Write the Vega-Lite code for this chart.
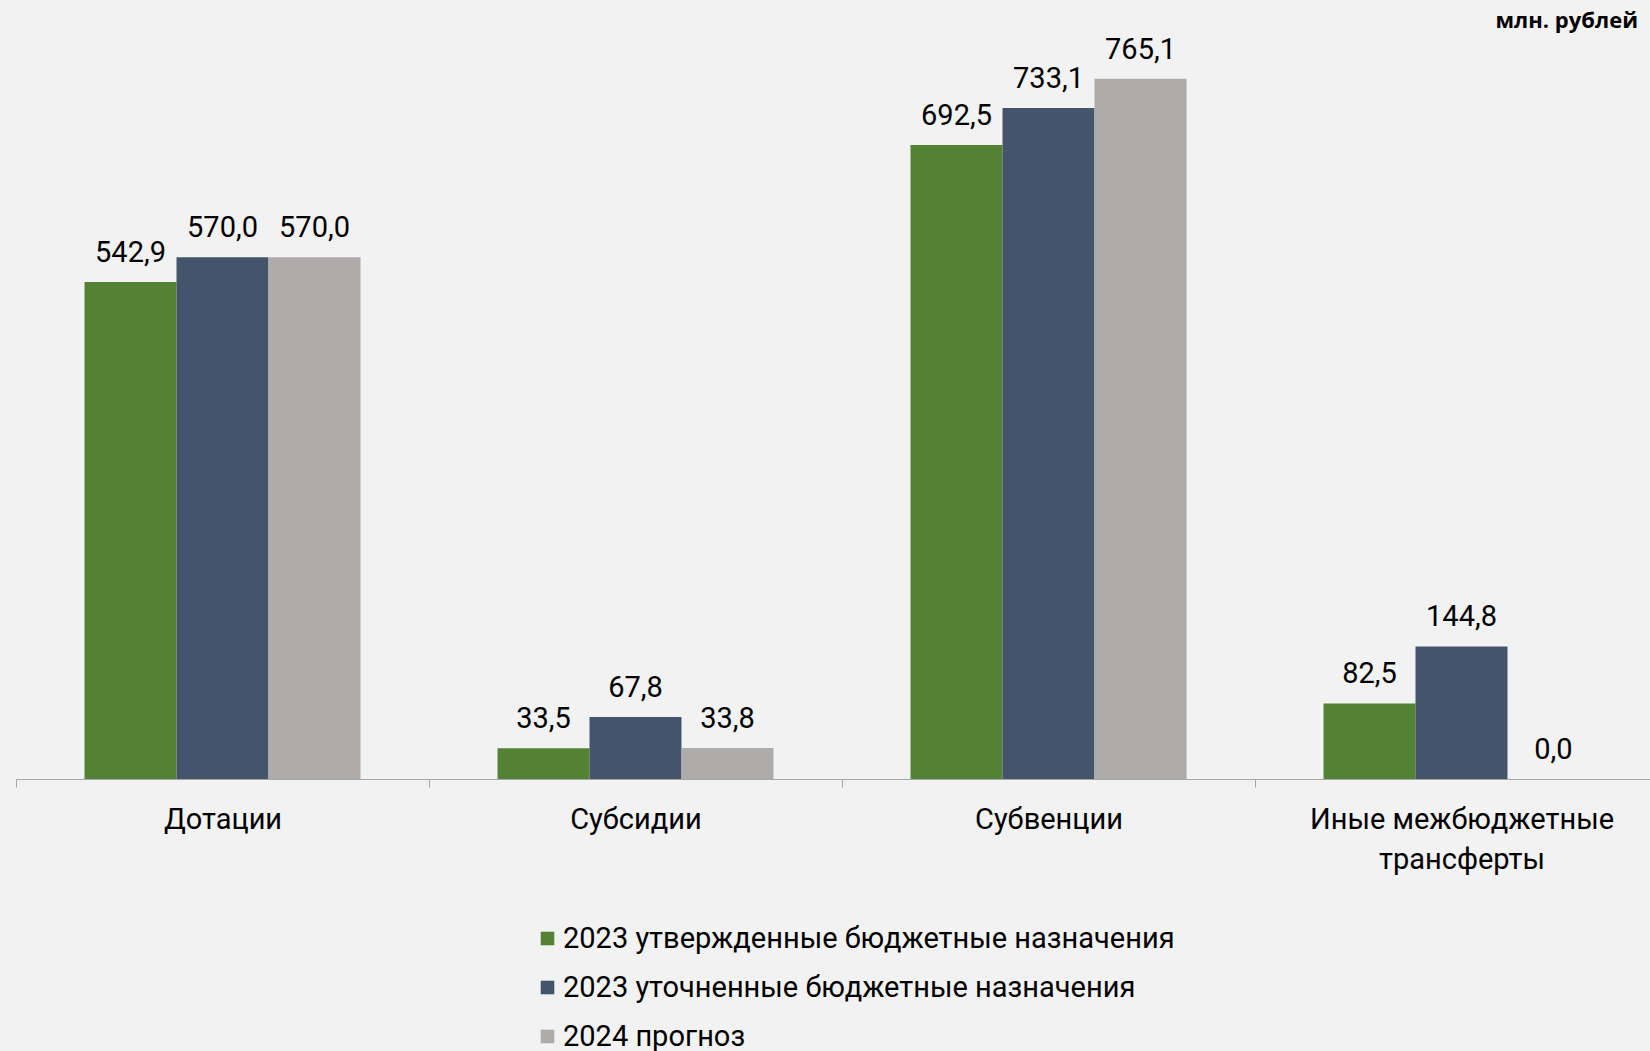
{
  "$schema": "https://vega.github.io/schema/vega-lite/v6.json",
  "width": 1634,
  "height": 779,
  "autosize": "none",
  "padding": {"left": 16, "top": 0, "right": 0, "bottom": 272},
  "background": "#F2F2F2",
  "config": {
    "view": {"stroke": null},
    "font": "Roboto",
    "locale": {"number": {"decimal": ",", "thousands": " ", "grouping": [3], "currency": ["", ""]}}
  },
  "title": {
    "text": "млн. рублей",
    "orient": "top",
    "anchor": "end",
    "frame": "group",
    "font": "Open Sans",
    "fontSize": 22,
    "fontWeight": "bold",
    "color": "#000000",
    "baseline": "alphabetic",
    "offset": 0,
    "dy": 50,
    "dx": -12
  },
  "data": {
    "values": [
      {"category": "Дотации", "series": "2023 утвержденные бюджетные назначения", "value": 542.9},
      {"category": "Дотации", "series": "2023 уточненные бюджетные назначения", "value": 570.0},
      {"category": "Дотации", "series": "2024 прогноз", "value": 570.0},
      {"category": "Субсидии", "series": "2023 утвержденные бюджетные назначения", "value": 33.5},
      {"category": "Субсидии", "series": "2023 уточненные бюджетные назначения", "value": 67.8},
      {"category": "Субсидии", "series": "2024 прогноз", "value": 33.8},
      {"category": "Субвенции", "series": "2023 утвержденные бюджетные назначения", "value": 692.5},
      {"category": "Субвенции", "series": "2023 уточненные бюджетные назначения", "value": 733.1},
      {"category": "Субвенции", "series": "2024 прогноз", "value": 765.1},
      {"category": "Иные межбюджетные трансферты", "series": "2023 утвержденные бюджетные назначения", "value": 82.5},
      {"category": "Иные межбюджетные трансферты", "series": "2023 уточненные бюджетные назначения", "value": 144.8},
      {"category": "Иные межбюджетные трансферты", "series": "2024 прогноз", "value": 0.0}
    ]
  },
  "encoding": {
    "x": {
      "field": "category",
      "type": "nominal",
      "sort": ["Дотации", "Субсидии", "Субвенции", "Иные межбюджетные трансферты"],
      "scale": {"range": [0, 1652], "paddingInner": 0, "paddingOuter": 0},
      "axis": {
        "title": null,
        "labelAngle": 0,
        "labelFontSize": 29,
        "labelColor": "#000000",
        "labelPadding": 18,
        "labelLimit": 600,
        "labelLineHeight": 40,
        "labelExpr": "datum.label == 'Иные межбюджетные трансферты' ? ['Иные межбюджетные', 'трансферты'] : datum.label",
        "domainColor": "#A6A6A6",
        "tickColor": "#A6A6A6",
        "tickSize": 8,
        "tickBand": "extent"
      }
    },
    "xOffset": {
      "field": "series",
      "sort": ["2023 утвержденные бюджетные назначения", "2023 уточненные бюджетные назначения", "2024 прогноз"],
      "scale": {"paddingInner": 0, "paddingOuter": 0.745}
    },
    "y": {
      "field": "value",
      "type": "quantitative",
      "scale": {"domain": [0, 851]},
      "axis": null
    }
  },
  "layer": [
    {
      "mark": {"type": "bar"},
      "encoding": {
        "color": {
          "field": "series",
          "type": "nominal",
          "sort": ["2023 утвержденные бюджетные назначения", "2023 уточненные бюджетные назначения", "2024 прогноз"],
          "scale": {
            "domain": ["2023 утвержденные бюджетные назначения", "2023 уточненные бюджетные назначения", "2024 прогноз"],
            "range": ["#548235", "#44546A", "#AEABAB"]
          },
          "legend": {
            "orient": "none",
            "legendX": 517,
            "legendY": 924,
            "direction": "vertical",
            "title": null,
            "symbolType": "square",
            "symbolSize": 185,
            "symbolStrokeWidth": 0,
            "labelFontSize": 29,
            "labelColor": "#000000",
            "labelOffset": 1,
            "labelLimit": 1000,
            "rowPadding": 19
          }
        }
      }
    },
    {
      "mark": {"type": "text", "dy": -20, "baseline": "alphabetic", "fontSize": 29, "color": "#000000"},
      "encoding": {
        "text": {"field": "value", "type": "quantitative", "format": ".1f"}
      }
    }
  ]
}
